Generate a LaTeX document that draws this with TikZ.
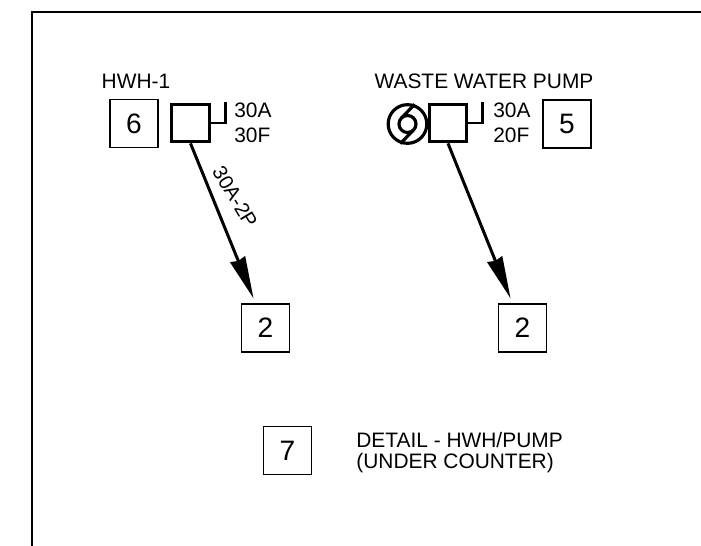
\documentclass[tikz,border=0pt]{standalone}
\usepackage{fontspec}
\setmainfont{Liberation Sans}
\usetikzlibrary{arrows.meta}
\usetikzlibrary{positioning}

\tikzset{
  tagbox/.style={draw, line width=0.9pt, minimum size=27.2pt, inner sep=0pt, font=\fontsize{16}{16}\selectfont},
  switchbox/.style={draw, line width=1.8pt, minimum size=21.4pt, inner sep=0pt},
  rating/.style={anchor=west, inner sep=0pt, font=\fontsize{11.9}{11.9}\selectfont},
  caption/.style={inner sep=0pt, font=\fontsize{11.9}{11.9}\selectfont},
  feeder/.style={line width=1.7pt, -{Stealth[length=24pt, width=9pt, inset=1pt]}, shorten >=3pt},
  stub/.style={line width=1.6pt}
}

\begin{document}
\begin{tikzpicture}[x=0.02cm, y=-0.02cm]
  \useasboundingbox (0, 0) rectangle (701, 546);

  \draw [line width=1.4pt] (32, 546) -- (32, 12) -- (701, 12);

  \node [caption] (hwhlabel) at (136, 81) {HWH-1};
  \node [tagbox] (tagsix) at (134, 123.5) {6};
  \node [switchbox] (hwhswitch) at (190.5, 123) {};
  \node [rating] (hwhamps) at (234, 110) {30A};
  \node [rating] (hwhfuse) at (234, 135) {30F};
  \node [tagbox] (hwhpanel) at (265.5, 328) {2};

  \node [caption] (pumplabel) at (484, 81) {WASTE WATER PUMP};
  \node [draw, circle, line width=1.8pt, minimum size=22pt, inner sep=0pt] (pump) at (407.5, 124) {};
  \node [switchbox] (pumpswitch) at (448, 123) {};
  \node [rating] (pumpamps) at (493, 110) {30A};
  \node [rating] (pumpfuse) at (493, 135) {20F};
  \node [tagbox] (tagfive) at (567, 124) {5};
  \node [tagbox] (pumppanel) at (522.5, 328) {2};

  \node [tagbox] (tagseven) at (287.5, 450.5) {7};
  \node [caption, anchor=west] (detail) at (356, 440) {DETAIL - HWH/PUMP};
  \node [caption, anchor=west] (location) at (356, 463) {(UNDER COUNTER)};

  \draw [stub] (hwhswitch.east) -- ++(15, 0) -- ++(0, -21);
  \draw [stub] (pumpswitch.east) -- ++(14, 0) -- ++(0, -21);

  \draw [line width=1.8pt] (407.5, 124) circle (8.5);
  \draw [line width=1.8pt] (pump.70) -- (401.5, 118);
  \draw [line width=1.8pt] (pump.250) -- (413.5, 130);

  \draw [feeder] (hwhswitch.south) -- (hwhpanel.112);
  \node [rotate=-59, inner sep=0pt, font=\fontsize{11.5}{11.5}\selectfont] (hwhfeed) at (235, 197) {30A-2P};
  \draw [feeder] (pumpswitch.south) -- (pumppanel.112);
\end{tikzpicture}
\end{document}
